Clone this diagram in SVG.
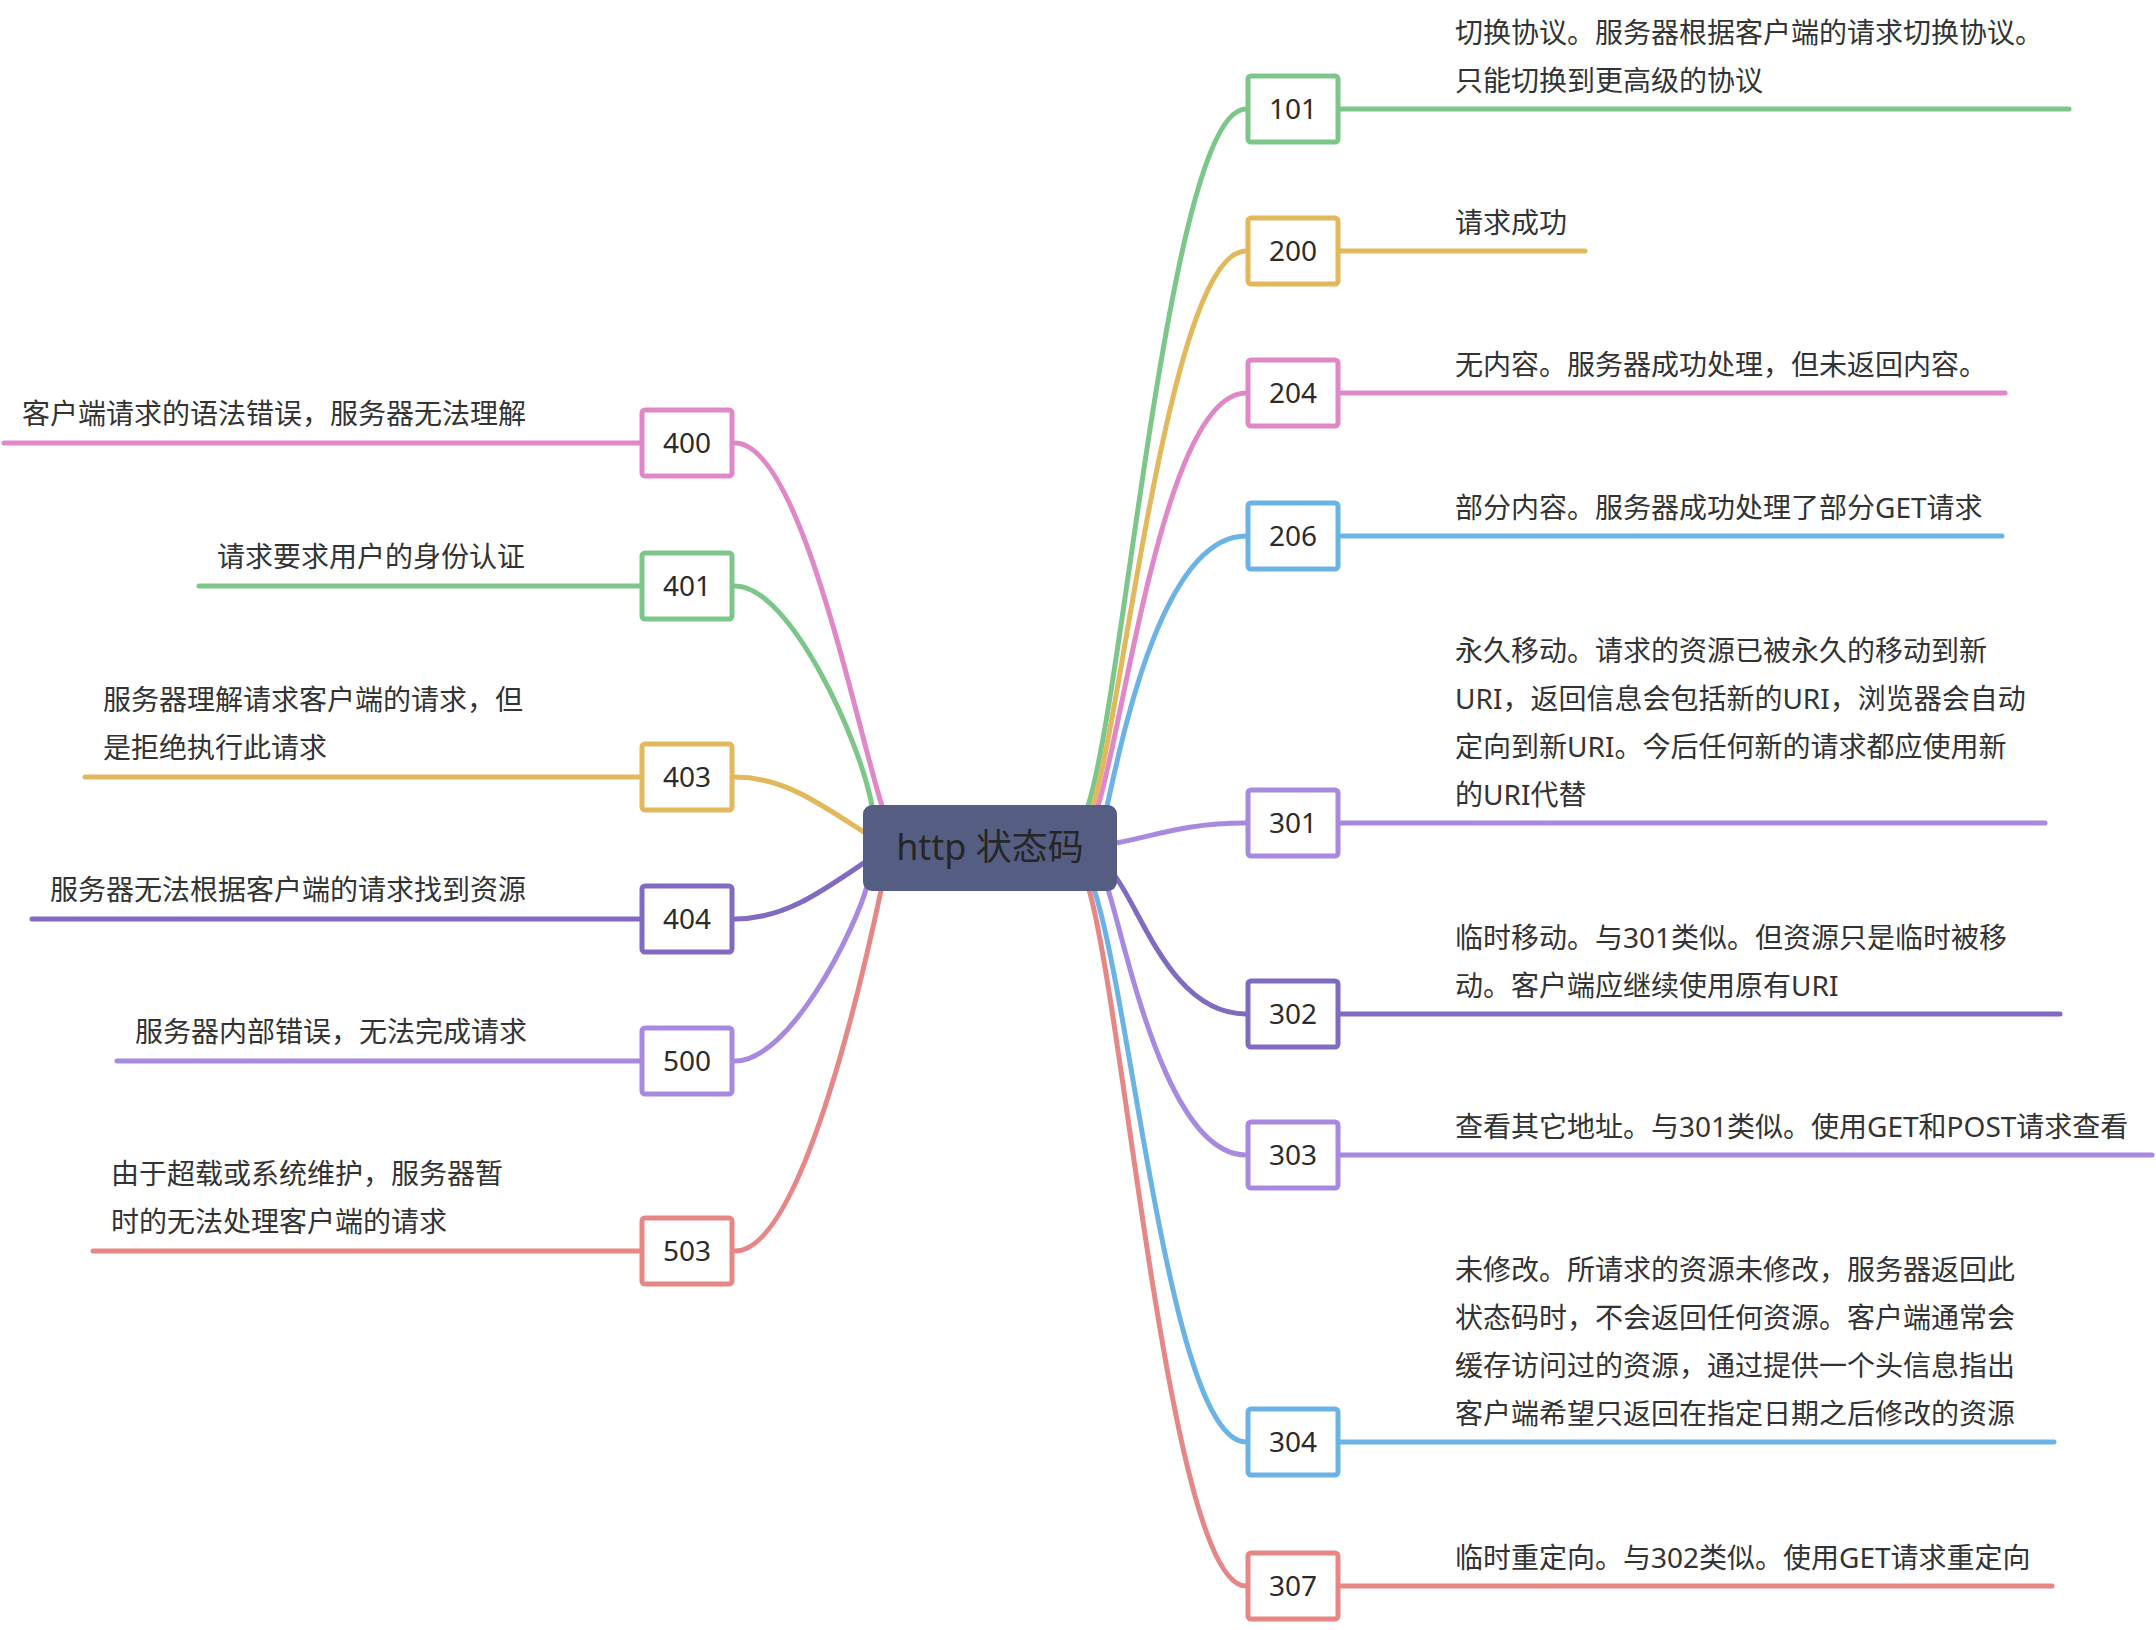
<svg xmlns="http://www.w3.org/2000/svg" width="2156" height="1630" viewBox="0 0 2156 1630">
<style>
.c{fill:none;stroke-width:5;stroke-linecap:round}
.u{fill:none;stroke-width:5;stroke-linecap:round}
.b{fill:#fff;stroke-width:5}
.n{font-family:"Noto Sans","Noto Sans CJK SC",sans-serif;font-size:28px;fill:#2b2b2b;text-anchor:middle}
.t{font-family:"Noto Sans","Noto Sans CJK SC",sans-serif;font-size:28px;fill:#333}
.green{stroke:#7cc68a}.yellow{stroke:#e2b85c}.pink{stroke:#e087c7}.blue{stroke:#6cb3e5}
.lp{stroke:#a78ae0}.dp{stroke:#806bc0}.red{stroke:#e68686}
</style>
<rect width="2156" height="1630" fill="#fff"/>
<g id="connectors">
<path class="c green" d="M1088,806 C1125,690 1170,109 1246,109"/>
<path class="c yellow" d="M1093,806 C1125,700 1170,251 1246,251"/>
<path class="c pink" d="M1098,806 C1125,720 1165,393 1246,393"/>
<path class="c blue" d="M1107,806 C1120,750 1160,536 1246,536"/>
<path class="c lp" d="M1110,844 C1150,838 1180,823 1246,823"/>
<path class="c dp" d="M1112,872 C1140,905 1170,1014 1246,1014"/>
<path class="c lp" d="M1107,886 C1125,940 1165,1155 1246,1155"/>
<path class="c blue" d="M1093,886 C1132,1000 1170,1442 1246,1442"/>
<path class="c red" d="M1088,886 C1125,1010 1170,1586 1246,1586"/>
<path class="c pink" d="M882,806 C855,720 800,443 735,443"/>
<path class="c green" d="M872,806 C860,740 790,586 735,586"/>
<path class="c yellow" d="M880,842 C830,812 790,777 735,777"/>
<path class="c dp" d="M880,852 C830,885 790,919 735,919"/>
<path class="c lp" d="M867,886 C855,930 790,1061 735,1061"/>
<path class="c red" d="M882,886 C860,990 800,1251 735,1251"/>
</g>
<g id="root">
<rect x="863" y="805" width="254" height="86" rx="9" fill="#555e82"/>
<text x="990" y="860" font-family="'Noto Sans','Noto Sans CJK SC',sans-serif" font-size="36" fill="#262626" text-anchor="middle">http 状态码</text>
</g>
<g id="n101">
<line class="u green" x1="1338" y1="109" x2="2069" y2="109"/>
<rect class="b green" x="1248" y="76" width="90" height="66" rx="3"/>
<text class="n" x="1293" y="119">101</text>
<text class="t" x="1455" y="43">切换协议。服务器根据客户端的请求切换协议。</text>
<text class="t" x="1455" y="91">只能切换到更高级的协议</text>
</g>
<g id="n200">
<line class="u yellow" x1="1338" y1="251" x2="1585" y2="251"/>
<rect class="b yellow" x="1248" y="218" width="90" height="66" rx="3"/>
<text class="n" x="1293" y="261">200</text>
<text class="t" x="1455" y="233">请求成功</text>
</g>
<g id="n204">
<line class="u pink" x1="1338" y1="393" x2="2005" y2="393"/>
<rect class="b pink" x="1248" y="360" width="90" height="66" rx="3"/>
<text class="n" x="1293" y="403">204</text>
<text class="t" x="1455" y="375">无内容。服务器成功处理，但未返回内容。</text>
</g>
<g id="n206">
<line class="u blue" x1="1338" y1="536" x2="2002" y2="536"/>
<rect class="b blue" x="1248" y="503" width="90" height="66" rx="3"/>
<text class="n" x="1293" y="546">206</text>
<text class="t" x="1455" y="518">部分内容。服务器成功处理了部分GET请求</text>
</g>
<g id="n301">
<line class="u lp" x1="1338" y1="823" x2="2045" y2="823"/>
<rect class="b lp" x="1248" y="790" width="90" height="66" rx="3"/>
<text class="n" x="1293" y="833">301</text>
<text class="t" x="1455" y="661">永久移动。请求的资源已被永久的移动到新</text>
<text class="t" x="1455" y="709">URI，返回信息会包括新的URI，浏览器会自动</text>
<text class="t" x="1455" y="757">定向到新URI。今后任何新的请求都应使用新</text>
<text class="t" x="1455" y="805">的URI代替</text>
</g>
<g id="n302">
<line class="u dp" x1="1338" y1="1014" x2="2060" y2="1014"/>
<rect class="b dp" x="1248" y="981" width="90" height="66" rx="3"/>
<text class="n" x="1293" y="1024">302</text>
<text class="t" x="1455" y="948">临时移动。与301类似。但资源只是临时被移</text>
<text class="t" x="1455" y="996">动。客户端应继续使用原有URI</text>
</g>
<g id="n303">
<line class="u lp" x1="1338" y1="1155" x2="2152" y2="1155"/>
<rect class="b lp" x="1248" y="1122" width="90" height="66" rx="3"/>
<text class="n" x="1293" y="1165">303</text>
<text class="t" x="1455" y="1137">查看其它地址。与301类似。使用GET和POST请求查看</text>
</g>
<g id="n304">
<line class="u blue" x1="1338" y1="1442" x2="2054" y2="1442"/>
<rect class="b blue" x="1248" y="1409" width="90" height="66" rx="3"/>
<text class="n" x="1293" y="1452">304</text>
<text class="t" x="1455" y="1280">未修改。所请求的资源未修改，服务器返回此</text>
<text class="t" x="1455" y="1328">状态码时，不会返回任何资源。客户端通常会</text>
<text class="t" x="1455" y="1376">缓存访问过的资源，通过提供一个头信息指出</text>
<text class="t" x="1455" y="1424">客户端希望只返回在指定日期之后修改的资源</text>
</g>
<g id="n307">
<line class="u red" x1="1338" y1="1586" x2="2052" y2="1586"/>
<rect class="b red" x="1248" y="1553" width="90" height="66" rx="3"/>
<text class="n" x="1293" y="1596">307</text>
<text class="t" x="1455" y="1568">临时重定向。与302类似。使用GET请求重定向</text>
</g>
<g id="n400">
<line class="u pink" x1="4" y1="443" x2="642" y2="443"/>
<rect class="b pink" x="642" y="410" width="90" height="66" rx="3"/>
<text class="n" x="687" y="453">400</text>
<text class="t" x="22" y="424">客户端请求的语法错误，服务器无法理解</text>
</g>
<g id="n401">
<line class="u green" x1="199" y1="586" x2="642" y2="586"/>
<rect class="b green" x="642" y="553" width="90" height="66" rx="3"/>
<text class="n" x="687" y="596">401</text>
<text class="t" x="217" y="567">请求要求用户的身份认证</text>
</g>
<g id="n403">
<line class="u yellow" x1="85" y1="777" x2="642" y2="777"/>
<rect class="b yellow" x="642" y="744" width="90" height="66" rx="3"/>
<text class="n" x="687" y="787">403</text>
<text class="t" x="103" y="710">服务器理解请求客户端的请求，但</text>
<text class="t" x="103" y="758">是拒绝执行此请求</text>
</g>
<g id="n404">
<line class="u dp" x1="32" y1="919" x2="642" y2="919"/>
<rect class="b dp" x="642" y="886" width="90" height="66" rx="3"/>
<text class="n" x="687" y="929">404</text>
<text class="t" x="50" y="900">服务器无法根据客户端的请求找到资源</text>
</g>
<g id="n500">
<line class="u lp" x1="117" y1="1061" x2="642" y2="1061"/>
<rect class="b lp" x="642" y="1028" width="90" height="66" rx="3"/>
<text class="n" x="687" y="1071">500</text>
<text class="t" x="135" y="1042">服务器内部错误，无法完成请求</text>
</g>
<g id="n503">
<line class="u red" x1="93" y1="1251" x2="642" y2="1251"/>
<rect class="b red" x="642" y="1218" width="90" height="66" rx="3"/>
<text class="n" x="687" y="1261">503</text>
<text class="t" x="111" y="1184">由于超载或系统维护，服务器暂</text>
<text class="t" x="111" y="1232">时的无法处理客户端的请求</text>
</g>
</svg>
